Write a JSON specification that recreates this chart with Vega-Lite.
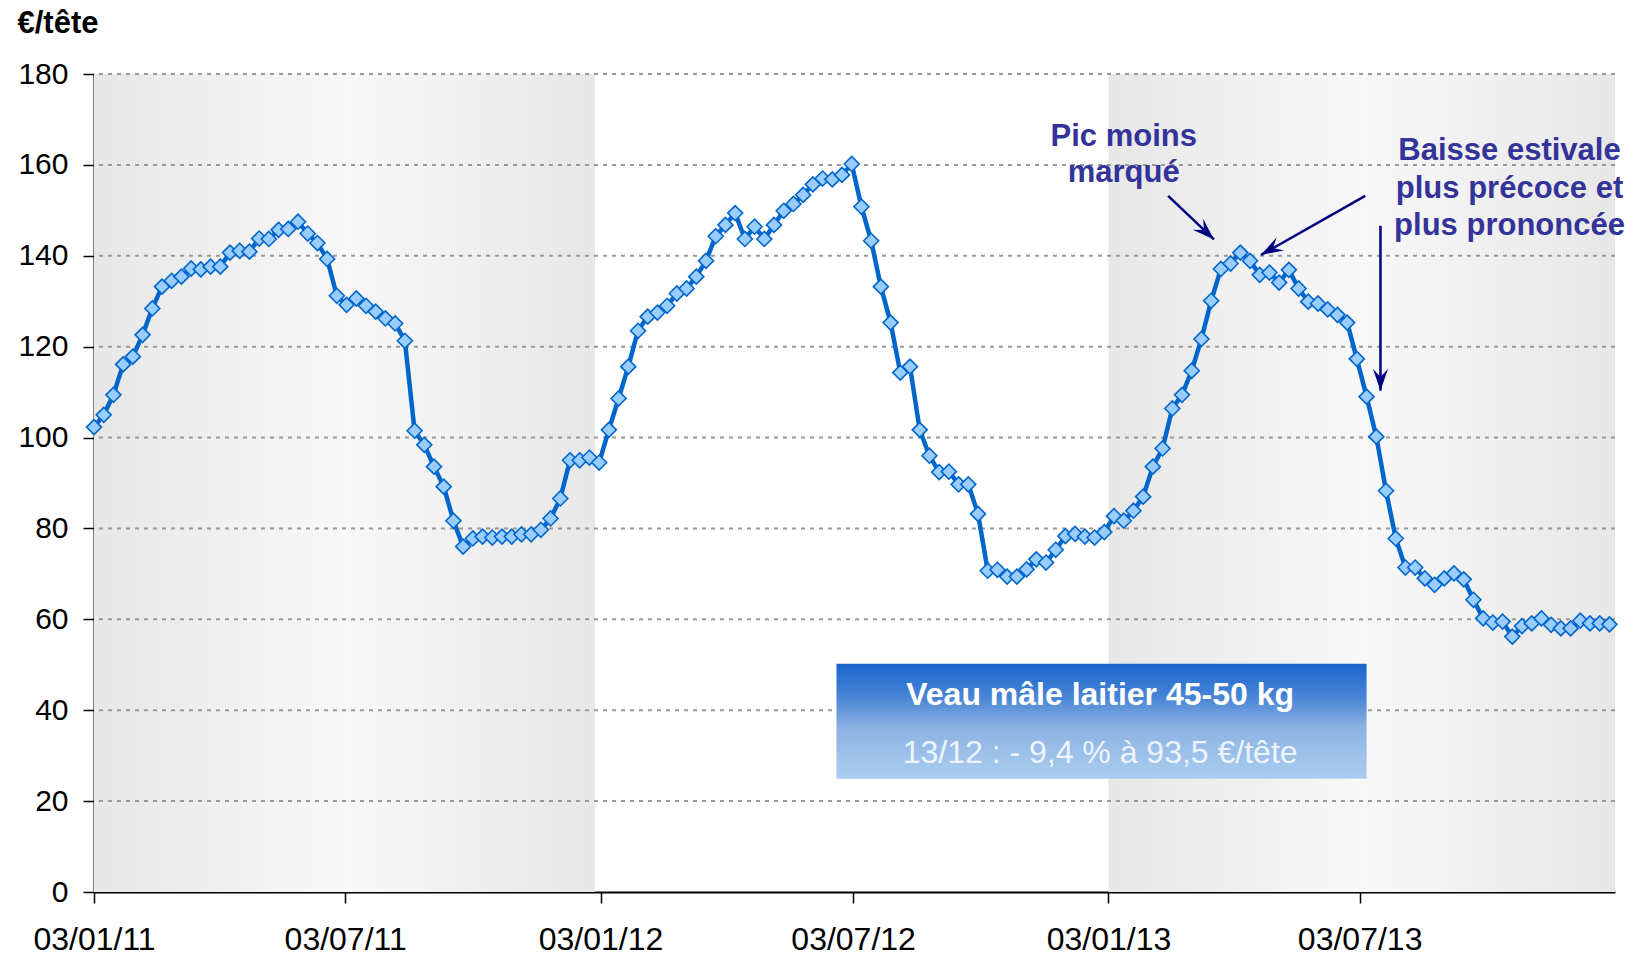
{
  "$schema": "https://vega.github.io/schema/vega-lite/v6.json",
  "width": 1521,
  "height": 818,
  "autosize": {"type": "none"},
  "padding": {"left": 94, "top": 74, "right": 24, "bottom": 63},
  "background": "white",
  "config": {"view": {"stroke": null}, "font": "Liberation Sans"},
  "datasets": {
    "series": [
      {"date": "2011-01-03", "value": 102.3}, {"date": "2011-01-10", "value": 105.0}, {"date": "2011-01-17", "value": 109.4},
      {"date": "2011-01-24", "value": 116.1}, {"date": "2011-01-31", "value": 117.8}, {"date": "2011-02-07", "value": 122.6},
      {"date": "2011-02-14", "value": 128.4}, {"date": "2011-02-21", "value": 133.2}, {"date": "2011-02-28", "value": 134.5},
      {"date": "2011-03-07", "value": 135.4}, {"date": "2011-03-14", "value": 137.2}, {"date": "2011-03-21", "value": 137.0},
      {"date": "2011-03-28", "value": 137.6}, {"date": "2011-04-04", "value": 137.6}, {"date": "2011-04-11", "value": 140.7},
      {"date": "2011-04-18", "value": 141.1}, {"date": "2011-04-25", "value": 140.9}, {"date": "2011-05-02", "value": 143.8},
      {"date": "2011-05-09", "value": 143.7}, {"date": "2011-05-16", "value": 145.7}, {"date": "2011-05-23", "value": 145.9},
      {"date": "2011-05-30", "value": 147.5}, {"date": "2011-06-06", "value": 144.9}, {"date": "2011-06-13", "value": 142.8},
      {"date": "2011-06-20", "value": 139.3}, {"date": "2011-06-27", "value": 131.2}, {"date": "2011-07-04", "value": 129.2},
      {"date": "2011-07-11", "value": 130.6}, {"date": "2011-07-18", "value": 129.0}, {"date": "2011-07-25", "value": 127.7},
      {"date": "2011-08-01", "value": 126.2}, {"date": "2011-08-08", "value": 125.1}, {"date": "2011-08-15", "value": 121.3},
      {"date": "2011-08-22", "value": 101.5}, {"date": "2011-08-29", "value": 98.4}, {"date": "2011-09-05", "value": 93.6},
      {"date": "2011-09-12", "value": 89.2}, {"date": "2011-09-19", "value": 81.7}, {"date": "2011-09-26", "value": 76.0},
      {"date": "2011-10-03", "value": 77.8}, {"date": "2011-10-10", "value": 78.2}, {"date": "2011-10-17", "value": 78.0},
      {"date": "2011-10-24", "value": 78.2}, {"date": "2011-10-31", "value": 78.2}, {"date": "2011-11-07", "value": 78.7},
      {"date": "2011-11-14", "value": 78.7}, {"date": "2011-11-21", "value": 79.7}, {"date": "2011-11-28", "value": 82.2},
      {"date": "2011-12-05", "value": 86.6}, {"date": "2011-12-12", "value": 95.0}, {"date": "2011-12-19", "value": 95.0},
      {"date": "2011-12-26", "value": 95.6}, {"date": "2012-01-02", "value": 94.5}, {"date": "2012-01-09", "value": 101.7},
      {"date": "2012-01-16", "value": 108.6}, {"date": "2012-01-23", "value": 115.6}, {"date": "2012-01-30", "value": 123.5},
      {"date": "2012-02-06", "value": 126.6}, {"date": "2012-02-13", "value": 127.5}, {"date": "2012-02-20", "value": 129.0},
      {"date": "2012-02-27", "value": 131.7}, {"date": "2012-03-05", "value": 132.8}, {"date": "2012-03-12", "value": 135.4},
      {"date": "2012-03-19", "value": 138.9}, {"date": "2012-03-26", "value": 144.3}, {"date": "2012-04-02", "value": 146.8},
      {"date": "2012-04-09", "value": 149.4}, {"date": "2012-04-16", "value": 143.7}, {"date": "2012-04-23", "value": 146.4},
      {"date": "2012-04-30", "value": 143.7}, {"date": "2012-05-07", "value": 146.8}, {"date": "2012-05-14", "value": 149.9},
      {"date": "2012-05-21", "value": 151.4}, {"date": "2012-05-28", "value": 153.4}, {"date": "2012-06-04", "value": 155.7},
      {"date": "2012-06-11", "value": 157.0}, {"date": "2012-06-18", "value": 156.8}, {"date": "2012-06-25", "value": 157.8},
      {"date": "2012-07-02", "value": 160.2}, {"date": "2012-07-09", "value": 150.8}, {"date": "2012-07-16", "value": 143.3},
      {"date": "2012-07-23", "value": 133.2}, {"date": "2012-07-30", "value": 125.3}, {"date": "2012-08-06", "value": 114.3},
      {"date": "2012-08-13", "value": 115.6}, {"date": "2012-08-20", "value": 101.7}, {"date": "2012-08-27", "value": 96.0},
      {"date": "2012-09-03", "value": 92.4}, {"date": "2012-09-10", "value": 92.5}, {"date": "2012-09-17", "value": 89.7},
      {"date": "2012-09-24", "value": 89.7}, {"date": "2012-10-01", "value": 83.2}, {"date": "2012-10-08", "value": 70.7},
      {"date": "2012-10-15", "value": 70.9}, {"date": "2012-10-22", "value": 69.4}, {"date": "2012-10-29", "value": 69.4},
      {"date": "2012-11-05", "value": 71.0}, {"date": "2012-11-12", "value": 73.2}, {"date": "2012-11-19", "value": 72.5},
      {"date": "2012-11-26", "value": 75.3}, {"date": "2012-12-03", "value": 78.3}, {"date": "2012-12-10", "value": 78.8},
      {"date": "2012-12-17", "value": 78.2}, {"date": "2012-12-24", "value": 78.0}, {"date": "2012-12-31", "value": 79.2},
      {"date": "2013-01-07", "value": 82.7}, {"date": "2013-01-14", "value": 81.7}, {"date": "2013-01-21", "value": 83.9},
      {"date": "2013-01-28", "value": 87.0}, {"date": "2013-02-04", "value": 93.6}, {"date": "2013-02-11", "value": 97.6},
      {"date": "2013-02-18", "value": 106.4}, {"date": "2013-02-25", "value": 109.4}, {"date": "2013-03-04", "value": 114.7},
      {"date": "2013-03-11", "value": 121.7}, {"date": "2013-03-18", "value": 130.1}, {"date": "2013-03-25", "value": 137.1},
      {"date": "2013-04-01", "value": 138.3}, {"date": "2013-04-08", "value": 140.7}, {"date": "2013-04-15", "value": 138.9},
      {"date": "2013-04-22", "value": 135.8}, {"date": "2013-04-29", "value": 136.3}, {"date": "2013-05-06", "value": 134.1},
      {"date": "2013-05-13", "value": 136.9}, {"date": "2013-05-20", "value": 132.8}, {"date": "2013-05-27", "value": 129.9},
      {"date": "2013-06-03", "value": 129.5}, {"date": "2013-06-10", "value": 128.2}, {"date": "2013-06-17", "value": 127.0},
      {"date": "2013-06-24", "value": 125.3}, {"date": "2013-07-01", "value": 117.3}, {"date": "2013-07-08", "value": 109.0},
      {"date": "2013-07-15", "value": 100.2}, {"date": "2013-07-22", "value": 88.3}, {"date": "2013-07-29", "value": 77.8},
      {"date": "2013-08-05", "value": 71.4}, {"date": "2013-08-12", "value": 71.4}, {"date": "2013-08-19", "value": 69.0},
      {"date": "2013-08-26", "value": 67.6}, {"date": "2013-09-02", "value": 69.0}, {"date": "2013-09-09", "value": 70.1},
      {"date": "2013-09-16", "value": 68.8}, {"date": "2013-09-23", "value": 64.3}, {"date": "2013-09-30", "value": 60.2},
      {"date": "2013-10-07", "value": 59.3}, {"date": "2013-10-14", "value": 59.5}, {"date": "2013-10-21", "value": 56.2},
      {"date": "2013-10-28", "value": 58.5}, {"date": "2013-11-04", "value": 59.1}, {"date": "2013-11-11", "value": 60.2},
      {"date": "2013-11-18", "value": 58.8}, {"date": "2013-11-25", "value": 58.0}, {"date": "2013-12-02", "value": 58.0},
      {"date": "2013-12-09", "value": 59.7}, {"date": "2013-12-16", "value": 59.1}, {"date": "2013-12-23", "value": 59.1},
      {"date": "2013-12-30", "value": 58.9}
    ],
    "bands": [
      {"start": "2011-01-03", "end": "2011-12-30"},
      {"start": "2013-01-03", "end": "2014-01-03"}
    ],
    "grid": [{"v": 20}, {"v": 40}, {"v": 60}, {"v": 80}, {"v": 100}, {"v": 120}, {"v": 140}, {"v": 160}, {"v": 180}],
    "box": [{"start": "2012-06-21", "end": "2013-07-08", "low": 24.9, "high": 50.2}],
    "boxTitle": [{"date": "2012-12-28", "value": 41.2, "text": "Veau mâle laitier 45-50 kg"}],
    "boxSub": [{"date": "2012-12-28", "value": 28.3, "text": "13/12 : - 9,4 % à 93,5 €/tête"}],
    "notes": [
      {"date": "2013-01-14", "value": 164.2, "text": "Pic moins"},
      {"date": "2013-01-14", "value": 156.3, "text": "marqué"},
      {"date": "2013-10-19", "value": 161.1, "text": "Baisse estivale"},
      {"date": "2013-10-19", "value": 152.8, "text": "plus précoce et"},
      {"date": "2013-10-19", "value": 144.6, "text": "plus prononcée"}
    ],
    "arrows": [
      {"id": "a1", "from": "2013-02-15", "fromV": 153.2, "to": "2013-03-20", "toV": 143.6},
      {"id": "a2", "from": "2013-07-07", "fromV": 153.2, "to": "2013-04-23", "toV": 140.2},
      {"id": "a3", "from": "2013-07-18", "fromV": 146.6, "to": "2013-07-18", "toV": 110.3}
    ]
  },
  "layer": [
    {
      "data": {"name": "series"},
      "mark": {"type": "line", "color": "#0066cc", "strokeWidth": 4, "opacity": 0},
      "encoding": {
        "x": {
          "field": "date", "type": "temporal",
          "scale": {
            "type": "utc",
            "domain": [
              {"year": 2011, "month": 1, "date": 3, "utc": true},
              {"year": 2014, "month": 1, "date": 3, "utc": true}
            ]
          },
          "axis": {
            "title": null,
            "values": [
              {"year": 2011, "month": 1, "date": 3, "utc": true},
              {"year": 2011, "month": 7, "date": 3, "utc": true},
              {"year": 2012, "month": 1, "date": 3, "utc": true},
              {"year": 2012, "month": 7, "date": 3, "utc": true},
              {"year": 2013, "month": 1, "date": 3, "utc": true},
              {"year": 2013, "month": 7, "date": 3, "utc": true}
            ],
            "labelExpr": "utcFormat(datum.value, '%d/%m/%y')",
            "grid": false,
            "domainColor": "#000000",
            "domainWidth": 2,
            "tickColor": "#000000",
            "tickWidth": 1.5,
            "tickSize": 11,
            "labelFont": "Liberation Sans",
            "labelFontSize": 32,
            "labelColor": "#000000",
            "labelPadding": 21,
            "labelFlush": false,
            "labelOverlap": false
          }
        },
        "y": {
          "field": "value", "type": "quantitative",
          "scale": {"domain": [0, 180], "nice": false, "zero": true},
          "axis": {
            "title": "€/tête",
            "titleAngle": 0,
            "titleAlign": "left",
            "titleBaseline": "alphabetic",
            "titleX": -77,
            "titleY": -42,
            "titleFont": "Liberation Sans",
            "titleFontSize": 31,
            "titleFontWeight": "bold",
            "titleColor": "#000000",
            "values": [0, 20, 40, 60, 80, 100, 120, 140, 160, 180],
            "grid": false,
            "domainColor": "#000000",
            "domainWidth": 2,
            "tickColor": "#000000",
            "tickWidth": 1.5,
            "tickSize": 11,
            "labelFont": "Liberation Sans",
            "labelFontSize": 30,
            "labelColor": "#000000",
            "labelPadding": 15
          }
        }
      }
    },
    {
      "data": {"name": "bands"},
      "mark": {
        "type": "rect",
        "color": {
          "gradient": "linear", "x1": 0, "y1": 0, "x2": 1, "y2": 0,
          "stops": [
            {"offset": 0, "color": "#e7e7e7"},
            {"offset": 0.5, "color": "#f8f8f8"},
            {"offset": 1, "color": "#e7e7e7"}
          ]
        }
      },
      "encoding": {
        "x": {"field": "start", "type": "temporal", "scale": {"type": "utc"}},
        "x2": {"field": "end"},
        "y": {"datum": 0, "type": "quantitative"},
        "y2": {"datum": 180}
      }
    },
    {
      "data": {"name": "grid"},
      "mark": {"type": "rule", "color": "#999999", "strokeWidth": 2, "strokeDash": [4, 5]},
      "encoding": {
        "y": {"field": "v", "type": "quantitative"}
      }
    },
    {
      "data": {"name": "series"},
      "mark": {"type": "line", "color": "#0066cc", "strokeWidth": 4.5},
      "encoding": {
        "x": {"field": "date", "type": "temporal", "scale": {"type": "utc"}},
        "y": {"field": "value", "type": "quantitative"}
      }
    },
    {
      "data": {"name": "series"},
      "mark": {"type": "point", "shape": "diamond", "filled": true, "fill": "#99ccff", "stroke": "#0066cc", "strokeWidth": 1.6, "size": 225, "opacity": 1},
      "encoding": {
        "x": {"field": "date", "type": "temporal", "scale": {"type": "utc"}},
        "y": {"field": "value", "type": "quantitative"}
      }
    },
    {
      "data": {"name": "box"},
      "mark": {
        "type": "rect",
        "color": {
          "gradient": "linear", "x1": 0, "y1": 0, "x2": 0, "y2": 1,
          "stops": [
            {"offset": 0, "color": "#1966cc"},
            {"offset": 0.3, "color": "#4a86d6"},
            {"offset": 0.55, "color": "#8cb2e3"},
            {"offset": 1, "color": "#abcdef"}
          ]
        }
      },
      "encoding": {
        "x": {"field": "start", "type": "temporal", "scale": {"type": "utc"}},
        "x2": {"field": "end"},
        "y": {"field": "low", "type": "quantitative"},
        "y2": {"field": "high"}
      }
    },
    {
      "data": {"name": "boxTitle"},
      "mark": {"type": "text", "font": "Liberation Sans", "fontSize": 32, "fontWeight": "bold", "color": "#ffffff", "align": "center", "baseline": "alphabetic"},
      "encoding": {
        "x": {"field": "date", "type": "temporal", "scale": {"type": "utc"}},
        "y": {"field": "value", "type": "quantitative"},
        "text": {"field": "text"}
      }
    },
    {
      "data": {"name": "boxSub"},
      "mark": {"type": "text", "font": "Liberation Sans", "fontSize": 32, "color": "#eef4fc", "align": "center", "baseline": "alphabetic"},
      "encoding": {
        "x": {"field": "date", "type": "temporal", "scale": {"type": "utc"}},
        "y": {"field": "value", "type": "quantitative"},
        "text": {"field": "text"}
      }
    },
    {
      "data": {"name": "notes"},
      "mark": {"type": "text", "font": "Liberation Sans", "fontSize": 31, "fontWeight": "bold", "color": "#333399", "align": "center", "baseline": "alphabetic"},
      "encoding": {
        "x": {"field": "date", "type": "temporal", "scale": {"type": "utc"}},
        "y": {"field": "value", "type": "quantitative"},
        "text": {"field": "text"}
      }
    },
    {
      "data": {"name": "arrows"},
      "mark": {"type": "rule", "color": "#000080", "strokeWidth": 2.5},
      "encoding": {
        "x": {"field": "from", "type": "temporal", "scale": {"type": "utc"}},
        "x2": {"field": "to"},
        "y": {"field": "fromV", "type": "quantitative"},
        "y2": {"field": "toV"}
      }
    },
    {
      "data": {"name": "arrows"},
      "transform": [{"filter": "datum.id == 'a1'"}],
      "mark": {"type": "point", "shape": "M0,0L0.55,1.6L0,1L-0.55,1.6Z", "filled": true, "color": "#000080", "opacity": 1, "size": 760, "angle": 133.6},
      "encoding": {
        "x": {"field": "to", "type": "temporal", "scale": {"type": "utc"}},
        "y": {"field": "toV", "type": "quantitative"}
      }
    },
    {
      "data": {"name": "arrows"},
      "transform": [{"filter": "datum.id == 'a2'"}],
      "mark": {"type": "point", "shape": "M0,0L0.55,1.6L0,1L-0.55,1.6Z", "filled": true, "color": "#000080", "opacity": 1, "size": 760, "angle": 240.4},
      "encoding": {
        "x": {"field": "to", "type": "temporal", "scale": {"type": "utc"}},
        "y": {"field": "toV", "type": "quantitative"}
      }
    },
    {
      "data": {"name": "arrows"},
      "transform": [{"filter": "datum.id == 'a3'"}],
      "mark": {"type": "point", "shape": "M0,0L0.55,1.6L0,1L-0.55,1.6Z", "filled": true, "color": "#000080", "opacity": 1, "size": 760, "angle": 180},
      "encoding": {
        "x": {"field": "to", "type": "temporal", "scale": {"type": "utc"}},
        "y": {"field": "toV", "type": "quantitative"}
      }
    }
  ]
}
